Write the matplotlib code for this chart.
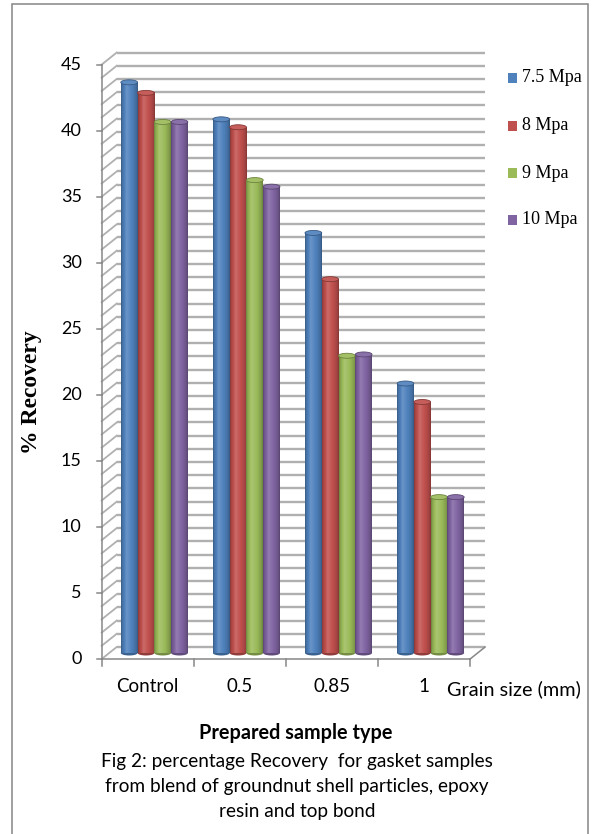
import numpy as np
import matplotlib
matplotlib.use("Agg")
import matplotlib.pyplot as plt
from matplotlib.patches import Ellipse, Rectangle
from matplotlib.colors import to_rgb

# ---- data -------------------------------------------------------------
categories = ["Control", "0.5", "0.85", "1"]
series_labels = ["7.5 Mpa", "8 Mpa", "9 Mpa", "10 Mpa"]
recovery_7_5 = [43.2, 40.4, 31.8, 20.4]
recovery_8 = [42.4, 39.8, 28.3, 19.0]
recovery_9 = [40.2, 35.8, 22.5, 11.8]
recovery_10 = [40.2, 35.3, 22.6, 11.8]
y_ticks = [0, 5, 10, 15, 20, 25, 30, 35, 40, 45]

series_values = [recovery_7_5, recovery_8, recovery_9, recovery_10]
series_colors = ["#4F81BD", "#C0504D", "#9BBB59", "#8064A2"]

# ---- figure geometry (pixels) ------------------------------------------
W, H = 592, 834
PX_X = 92.1      # pixels per category
PX_Y = 13.21     # pixels per % unit
X0, Y0 = 101.7, 659.0   # front-left-bottom corner of the plot
DX = 15.0 / PX_X        # depth offset of the back wall (data units)
DY = 12.0 / PX_Y

fig = plt.figure(figsize=(W / 100, H / 100), dpi=100)
XMAX, YMAX = 4.2, 46.5
ax = fig.add_axes([X0 / W, (H - Y0) / H, XMAX * PX_X / W, YMAX * PX_Y / H])
ax.set_xlim(0, XMAX)
ax.set_ylim(0, YMAX)
ax.axis("off")

SANS = ["Lato", "DejaVu Sans"]
SERIF = ["Liberation Serif", "DejaVu Serif"]
GRID = "#b0b0b0"
AXIS = "#878787"

# back wall gridlines and left wall diagonals
for v in range(0, 46):
    ax.plot([DX, 4 + DX], [v + DY, v + DY], color=GRID, lw=1.7,
            solid_capstyle="butt", zorder=1, clip_on=False)
    ax.plot([0, DX], [v, v + DY], color=GRID, lw=1.3, zorder=1, clip_on=False)

# floor edges and axes
ax.plot([0, 4], [0, 0], color=AXIS, lw=1.1, zorder=2, clip_on=False)
ax.plot([4, 4 + DX], [0, DY], color=AXIS, lw=1.1, zorder=2, clip_on=False)
ax.plot([0, 0], [0, 45], color=AXIS, lw=1.1, zorder=2, clip_on=False)
for v in y_ticks:
    ax.plot([-5 / PX_X, 0], [v, v], color=AXIS, lw=1.1, zorder=2, clip_on=False)
    ax.text(-20 / PX_X, v, str(v), ha="right", va="center", fontsize=13,
            family=SANS, color="#000000")
for i in range(5):
    ax.plot([i, i], [0, -7 / PX_Y], color=AXIS, lw=1.1, zorder=2, clip_on=False)
for i, c in enumerate(categories):
    ax.text(i + 0.5, -28 / PX_Y, c, ha="center", va="center", fontsize=13.5,
            family=SANS, color="#000000")


def cylinder_rgb(base, n=64):
    t = np.linspace(0, 1, n)
    f = np.interp(t, [0, 0.08, 0.33, 0.68, 0.92, 1.0],
                  [0.70, 0.88, 1.10, 0.98, 0.82, 0.68])
    c = np.array(to_rgb(base))[None, :]
    f = f[:, None]
    out = np.where(f > 1, c + (1 - c) * (f - 1) * 1.6, c * f)
    return np.clip(out, 0, 1)[None, :, :]


def tone(base, k):
    c = np.array(to_rgb(base))
    if k > 1:
        return tuple(np.clip(c + (1 - c) * (k - 1), 0, 1))
    return tuple(np.clip(c * k, 0, 1))


# cylinders (columns stand at mid-depth)
bar_w = 0.182
base = DY / 2
group_shift = 0.5 + DX / 2 - 0.01
cap_h = 5.0 / PX_Y
x_idx = np.arange(len(categories))
for s, (vals, col) in enumerate(zip(series_values, series_colors)):
    xs = x_idx + group_shift + (s - 1.5) * bar_w
    bars = ax.bar(xs, vals, width=bar_w, bottom=base, color=col,
                  linewidth=0, zorder=3 + s * 0.01)
    for rect, v in zip(bars, vals):
        x0, y0 = rect.get_x(), rect.get_y()
        w, h = rect.get_width(), rect.get_height()
        cx = x0 + w / 2
        ax.add_patch(Ellipse((cx, y0), w, cap_h, facecolor=tone(col, 0.75),
                             edgecolor="none", zorder=2.9))
        ax.imshow(cylinder_rgb(col), extent=(x0, x0 + w, y0, y0 + h),
                  aspect="auto", interpolation="bilinear", zorder=3 + s * 0.01)
        ax.add_patch(Ellipse((cx, y0 + h), w, cap_h, facecolor=tone(col, 1.08),
                             edgecolor=tone(col, 0.7), lw=0.6,
                             zorder=3.5 + s * 0.01))

ax.set_xlim(0, XMAX)
ax.set_ylim(0, YMAX)

# legend
legend_rows = [78, 126, 173, 220]
for lab, col, yc in zip(series_labels, series_colors, legend_rows):
    fig.patches.append(Rectangle(((508) / W, (H - yc - 4.5) / H), 9 / W, 9 / H,
                                 transform=fig.transFigure, facecolor=col,
                                 edgecolor="none"))
    fig.text(522 / W, (H - yc) / H, lab, ha="left", va="center",
             fontsize=13, family=SERIF, color="#000000")

# axis titles and caption
fig.text(31 / W, (H - 392) / H, "% Recovery", rotation=90, ha="center",
         va="center", fontsize=17, fontweight="bold", family=SERIF)
fig.text(447 / W, (H - 689) / H, "Grain size (mm)", ha="left", va="center",
         fontsize=14.3, family=SANS)
fig.text(296 / W, (H - 733) / H, "Prepared sample type", ha="center",
         va="center", fontsize=14.3, fontweight="bold", family=SANS)
caption = ["Fig 2: percentage Recovery  for gasket samples",
           "from blend of groundnut shell particles, epoxy",
           "resin and top bond"]
for k, line in enumerate(caption):
    fig.text(297 / W, (H - 762 - 24.5 * k) / H, line, ha="center",
             va="center", fontsize=13.7, family=SANS)

# outer frame
fig.patches.append(Rectangle((12 / W, -0.02), 576 / W, (H - 4) / H + 0.02,
                             transform=fig.transFigure, facecolor="none",
                             edgecolor="#858585", lw=1.1))

fig.savefig("out.png", dpi=100)
